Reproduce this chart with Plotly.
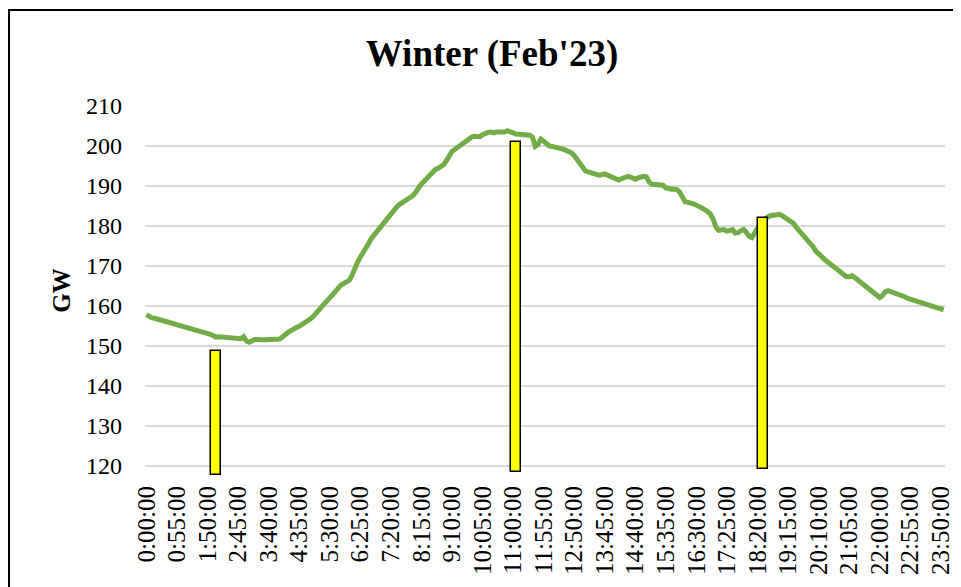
import plotly.graph_objects as go

# 5-minute time categories for one day
times = [f"{m // 60}:{m % 60:02d}:00" for m in range(0, 24 * 60, 5)]
tick_labels = times[::11]

demand_gw = [
    157.8, 157.3, 157.0, 156.9, 156.7, 156.5, 156.3, 156.1, 155.9, 155.8,
    155.7, 155.4, 155.1, 154.9, 154.8, 154.6, 154.4, 154.2, 154.1, 153.8,
    153.5, 153.4, 153.1, 152.9, 152.6, 152.2, 152.3, 152.2, 152.1, 152.0,
    152.0, 151.8, 151.7, 151.6, 151.8, 152.3, 151.2, 150.9, 151.3, 151.6,
    151.6, 151.7, 151.5, 151.5, 151.6, 151.5, 151.6, 151.6, 151.7, 152.2,
    152.9, 153.4, 153.8, 154.3, 154.6, 154.9, 155.3, 155.8, 156.3, 156.7,
    157.3, 158.2, 159.2, 160.0, 160.5, 161.2, 161.9, 162.6, 163.5, 164.4,
    165.2, 165.7, 166.1, 166.4, 167.6, 169.5, 170.9, 172.2, 173.2, 174.1,
    175.6, 176.9, 177.8, 178.6, 179.4, 180.1, 181.2, 182.4, 183.2, 183.9,
    184.6, 185.3, 185.8, 186.3, 186.8, 187.2, 187.6, 188.5, 189.6, 190.5,
    191.2, 192.0, 192.7, 193.5, 194.1, 194.4, 194.8, 195.3, 196.3, 197.8,
    198.6, 199.1, 199.6, 200.3, 200.8, 201.3, 201.7, 202.2, 202.4, 202.4,
    202.3, 202.8, 203.2, 203.4, 203.5, 203.3, 203.5, 203.4, 203.6, 203.5,
    203.8, 203.7, 203.3, 203.0, 202.9, 202.9, 202.8, 202.8, 202.7, 202.2,
    199.9, 200.4, 201.7, 201.2, 200.4, 200.0, 199.9, 199.8, 199.7, 199.4,
    199.2, 198.9, 198.7, 198.3, 197.6, 196.6, 195.5, 194.5, 193.8, 193.5,
    193.4, 193.2, 192.9, 192.7, 192.9, 193.0, 192.7, 192.4, 192.0, 191.7,
    191.5, 191.8, 192.1, 192.3, 192.3, 192.1, 191.7, 192.0, 192.3, 192.4,
    192.3, 191.0, 190.4, 190.4, 190.3, 190.4, 190.2, 189.5, 189.2, 189.2,
    189.2, 189.1, 188.4, 187.0, 186.0, 185.9, 185.8, 185.5, 185.2, 184.9,
    184.5, 184.1, 183.6, 183.0, 181.8, 179.8, 178.9, 178.9, 179.1, 178.7,
    178.8, 179.1, 178.2, 178.3, 178.8, 179.1, 178.4, 177.4, 177.1, 178.4,
    179.7, 180.6, 181.3, 181.9, 182.4, 182.6, 182.8, 183.0, 182.9, 182.5,
    182.1, 181.7, 181.2, 180.6, 179.6, 178.8, 178.2, 177.4, 176.7, 176.0,
    174.8, 173.7, 173.0, 172.2, 171.7, 171.1, 170.6, 170.1, 169.6, 169.1,
    168.5, 168.0, 167.3, 167.3, 167.6, 167.1, 166.5, 165.9, 165.4, 164.9,
    164.4, 163.9, 163.2, 162.6, 162.1, 162.6, 163.5, 163.8, 163.6, 163.4,
    163.1, 162.8, 162.6, 162.3, 161.9, 161.6, 161.3, 161.1, 161.0, 160.8,
    160.6, 160.4, 160.2, 160.0, 159.8, 159.5, 159.3, 159.0,
]

marker_times = ["2:05:00", "11:05:00", "18:30:00"]
marker_tops = [148.7, 200.9, 182.1]
marker_bases = [117.7, 118.4, 119.2]

# the page body adds an 8px margin, so the figure is sized to fit inside it
W, H = 953, 579
L, R, T, B = 137, 16, 97, 111
Y_RANGE = [117.45, 210.25]
X_RANGE = [-0.5, 287.5]
FONT = "Liberation Serif, Times New Roman, serif"

fig = go.Figure()
fig.add_trace(go.Scatter(
    x=times, y=demand_gw, mode="lines",
    line=dict(color="#70AD47", width=5),
    xaxis="x", yaxis="y", showlegend=False, hoverinfo="x+y",
))
fig.add_trace(go.Bar(
    x=marker_times,
    y=[t - b for t, b in zip(marker_tops, marker_bases)],
    base=marker_bases,
    width=3.5,
    marker=dict(color="#FFFF00", line=dict(color="#000000", width=1.5)),
    xaxis="x2", yaxis="y2", showlegend=False,
))

plot_w = W - L - R
plot_h = H - T - B

fig.update_layout(
    width=W, height=H,
    margin=dict(l=L, r=R, t=T, b=B, pad=0, autoexpand=False),
    paper_bgcolor="white", plot_bgcolor="white",
    font=dict(family=FONT, color="#000000", size=24),
    title=dict(
        text="<b>Winter (Feb'23)</b>",
        font=dict(family=FONT, size=37, color="#000000"),
        x=484 / W, xref="container", xanchor="center",
        y=1 - 45 / H, yref="container", yanchor="middle",
    ),
    xaxis=dict(
        type="category", categoryorder="array", categoryarray=times,
        range=X_RANGE, automargin=False,
        tickmode="array", tickvals=tick_labels, ticktext=tick_labels,
        tickangle=-90, tickfont=dict(family=FONT, size=25, color="#000000"),
        showgrid=False, zeroline=False, showline=False, ticks="",
        ticklabelstandoff=4,
    ),
    yaxis=dict(
        range=Y_RANGE, tickmode="array", automargin=False,
        tickvals=[120, 130, 140, 150, 160, 170, 180, 190, 200, 210],
        tickfont=dict(family=FONT, size=24, color="#000000"),
        showgrid=True, gridcolor="#D9D9D9", gridwidth=1.5,
        zeroline=False, showline=False, ticks="",
        ticklabelstandoff=22,
        title=dict(text="<b>GW</b>", font=dict(family=FONT, size=25, color="#000000"),
                   standoff=8),
    ),
    xaxis2=dict(
        type="category", categoryorder="array", categoryarray=times,
        range=X_RANGE, overlaying="x", visible=False,
    ),
    yaxis2=dict(range=Y_RANGE, overlaying="y", visible=False),
    bargap=0,
)

# outer chart frame
fig.add_shape(
    type="rect", xref="paper", yref="paper",
    x0=(1 - L) / plot_w, x1=(950 - L) / plot_w,
    y0=(H - B - 600) / plot_h, y1=(H - B - 2) / plot_h,
    line=dict(color="#000000", width=2), fillcolor="rgba(0,0,0,0)",
    layer="above",
)

fig.write_html("out.html")
